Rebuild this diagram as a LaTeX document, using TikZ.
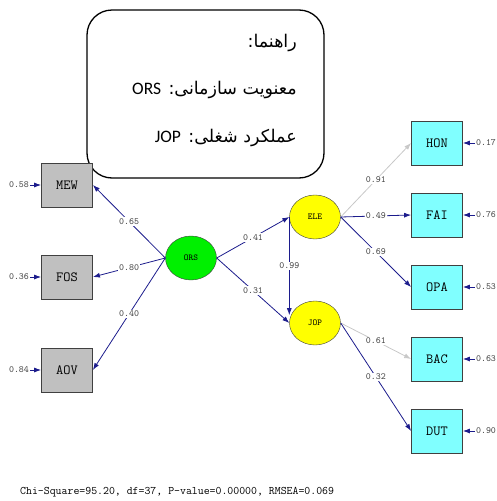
\documentclass[tikz,border=0pt]{standalone}
\usepackage{fontspec}
\newfontfamily\farsifont[Script=Arabic]{DejaVu Sans}
\newfontfamily\latinfont{Carlito}
\TeXXeTstate=1
\usetikzlibrary{shapes.geometric,arrows.meta}
\definecolor{pathblue}{RGB}{28,28,140}
\definecolor{pathgray}{RGB}{200,200,200}
\definecolor{boxgray}{RGB}{192,192,192}
\definecolor{boxcyan}{RGB}{128,255,255}
\definecolor{latgreen}{RGB}{0,240,0}
\definecolor{latyellow}{RGB}{255,255,0}
\begin{document}
\begin{tikzpicture}[x=1pt,y=-1pt]
          \useasboundingbox (0,0) rectangle (497,501);
          \tikzstyle{obs}=[draw=black!75,thick,minimum width=51pt,minimum height=44pt,inner sep=0pt,font=\fontsize{14}{14}\ttfamily];
          \tikzstyle{lat}=[draw=black!75,ellipse,minimum width=51pt,minimum height=44pt,inner sep=0pt,font=\fontsize{9}{9}\ttfamily];
          \tikzstyle{coef}=[fill=white,inner sep=1pt,text=black!75,font=\fontsize{9.5}{9.5}\ttfamily];
          \tikzstyle{err}=[inner sep=1pt,text=black!75,font=\fontsize{9.5}{9.5}\ttfamily];
          \tikzstyle{path}=[pathblue,line width=0.8pt,-{Latex[length=7pt,width=5pt]}];
          \tikzstyle{weak}=[pathgray,line width=0.8pt,-{Latex[length=7pt,width=5pt]}];
          \tikzstyle{legendtext}=[anchor=east,inner sep=0pt,font=\fontsize{17.5}{17.5}\farsifont];
          %\node (name) at (x,y) [style] {text};
          %\draw [style] (from) -- node {value} (to);
          % legend
          \node (legend) at (205.5,94) [draw,line width=1.3pt,rounded corners=25pt,minimum width=237pt,minimum height=168pt] {};
          \node (title) at (297,43) [legendtext] {\beginR راهنما:\endR};
          \node (keyORS) at (297,90) [legendtext] {\beginR معنویت سازمانی: \beginL{\latinfont ORS}\endL\endR};
          \node (keyJOP) at (297,138) [legendtext] {\beginR عملکرد شغلی: \beginL{\latinfont JOP}\endL\endR};
          % observed variables
          \node (MEW) at (67,185) [obs,fill=boxgray] {MEW};
          \node (FOS) at (67,277) [obs,fill=boxgray] {FOS};
          \node (AOV) at (67,370) [obs,fill=boxgray] {AOV};
          \node (HON) at (437,143) [obs,fill=boxcyan] {HON};
          \node (FAI) at (437,215) [obs,fill=boxcyan] {FAI};
          \node (OPA) at (437,287) [obs,fill=boxcyan] {OPA};
          \node (BAC) at (437,359) [obs,fill=boxcyan] {BAC};
          \node (DUT) at (437,431) [obs,fill=boxcyan] {DUT};
          % latent variables
          \node (ORS) at (191,258) [lat,fill=latgreen] {ORS};
          \node (ELE) at (315,217) [lat,fill=latyellow] {ELE};
          \node (JOP) at (315,323) [lat,fill=latyellow] {JOP};
          % error variances
          \node (eMEW) at (19,185) [err] {0.58};
          \node (eFOS) at (19,277) [err] {0.36};
          \node (eAOV) at (19,370) [err] {0.84};
          \node (eHON) at (486,143) [err] {0.17};
          \node (eFAI) at (486,215) [err] {0.76};
          \node (eOPA) at (486,287) [err] {0.53};
          \node (eBAC) at (486,359) [err] {0.63};
          \node (eDUT) at (486,431) [err] {0.90};
          \draw[path] (eMEW) -- (MEW);
          \draw[path] (eFOS) -- (FOS);
          \draw[path] (eAOV) -- (AOV);
          \draw[path] (eHON) -- (HON);
          \draw[path] (eFAI) -- (FAI);
          \draw[path] (eOPA) -- (OPA);
          \draw[path] (eBAC) -- (BAC);
          \draw[path] (eDUT) -- (DUT);
          % loadings and paths
          \draw[path] (ORS.west) -- node[coef] {0.65} (MEW.east);
          \draw[path] (ORS.west) -- node[coef] {0.80} (FOS.east);
          \draw[path] (ORS.west) -- node[coef] {0.40} (AOV.east);
          \draw[path] (ORS.east) -- node[coef] {0.41} (ELE.west);
          \draw[path] (ORS.east) -- node[coef] {0.31} (JOP.west);
          \draw[path] (ELE.west) -- node[coef] {0.99} (ELE.west |- JOP.162);
          \draw[weak] (ELE.east) -- node[coef] {0.91} (HON.west);
          \draw[path] (ELE.east) -- node[coef] {0.49} (FAI.west);
          \draw[path] (ELE.east) -- node[coef] {0.69} (OPA.west);
          \draw[weak] (JOP.east) -- node[coef] {0.61} (BAC.west);
          \draw[path] (JOP.east) -- node[coef] {0.32} (DUT.west);
          % fit
          \node (fit) at (20,492) [anchor=west,inner sep=0pt,font=\fontsize{11.5}{11.5}\ttfamily] {Chi-Square=95.20, df=37, P-value=0.00000, RMSEA=0.069};
      \end{tikzpicture}
\end{document}
